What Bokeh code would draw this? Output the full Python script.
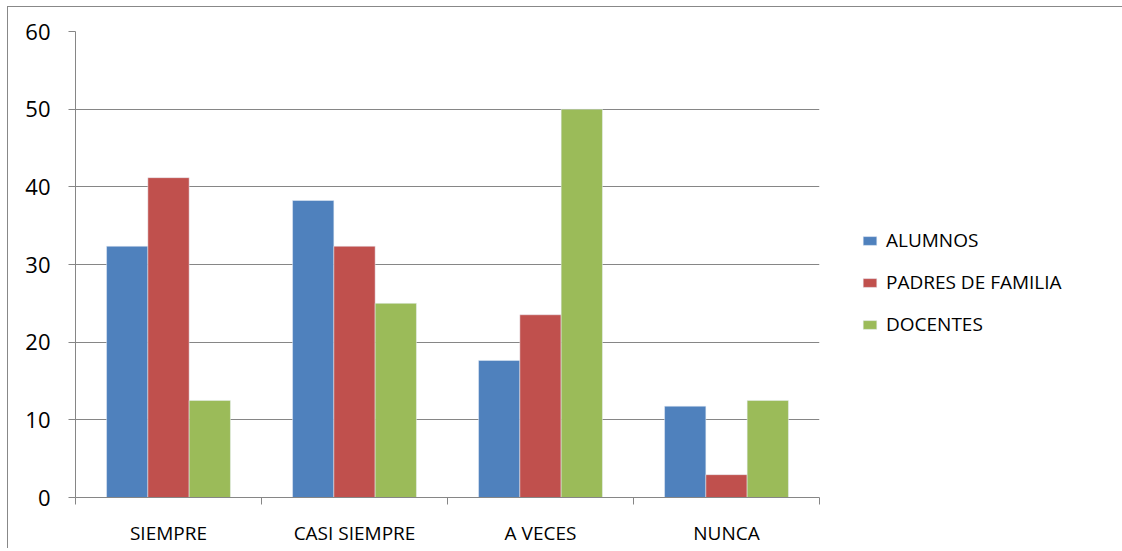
from bokeh.plotting import figure
from bokeh.models import ColumnDataSource, FixedTicker, Legend, LegendItem, Range1d
from bokeh.transform import dodge
from bokeh.embed import file_html
from bokeh.resources import INLINE

categories = ["SIEMPRE", "CASI SIEMPRE", "A VECES", "NUNCA"]
series = ["ALUMNOS", "PADRES DE FAMILIA", "DOCENTES"]
alumnos = [32.35, 38.24, 17.65, 11.76]
padres = [41.18, 32.35, 23.53, 2.94]
docentes = [12.5, 25.0, 50.0, 12.5]
y_ticks = [0, 10, 20, 30, 40, 50, 60]

colors = ["#4F81BD", "#C0504D", "#9BBB59"]
FONT = "Open Sans"

centers = [i + 0.5 for i in range(len(categories))]
src = ColumnDataSource(dict(x=centers, alumnos=alumnos, padres=padres, docentes=docentes))

p = figure(frame_width=744, frame_height=466, output_backend="svg", toolbar_location=None,
           x_range=Range1d(0, len(categories)), y_range=Range1d(0, 60),
           min_border_left=67, min_border_top=24, min_border_right=300, min_border_bottom=46)

bw = 0.222
renderers = []
for col, off, c in zip(["alumnos", "padres", "docentes"], [-bw, 0, bw], colors):
    r = p.vbar(x=dodge("x", off, range=p.x_range), top=col, width=bw, bottom=0, source=src,
               fill_color=c, line_color="#e8eef6", line_width=0.5)
    renderers.append(r)

p.outline_line_color = None
p.xgrid.grid_line_color = None
p.ygrid.grid_line_color = "#868686"
p.ygrid.grid_line_width = 1
p.yaxis.ticker = FixedTicker(ticks=y_ticks)
p.yaxis.minor_tick_line_color = None
p.yaxis.major_tick_out = 7
p.yaxis.major_tick_in = 0
p.yaxis.axis_line_color = "#868686"
p.yaxis.major_tick_line_color = "#868686"
p.yaxis.major_label_text_font = FONT
p.yaxis.major_label_text_font_size = "22px"
p.yaxis.major_label_text_color = "#000000"
p.yaxis.major_label_standoff = 18

p.xaxis.ticker = FixedTicker(ticks=centers, minor_ticks=list(range(len(categories) + 1)))
p.xaxis.major_label_overrides = {c: lab for c, lab in zip(centers, categories)}
p.xaxis.major_tick_line_color = None
p.xaxis.minor_tick_line_color = "#868686"
p.xaxis.minor_tick_out = 7
p.xaxis.minor_tick_in = 0
p.xaxis.axis_line_color = "#868686"
p.xaxis.major_label_text_font = FONT
p.xaxis.major_label_text_font_size = "19px"
p.xaxis.major_label_text_color = "#000000"
p.xaxis.major_label_standoff = 15

items = [LegendItem(label=s, renderers=[r]) for s, r in zip(series, renderers)]
legend = Legend(items=items, location=(42, 160), glyph_width=17, glyph_height=11,
                label_standoff=8, label_height=26, spacing=16, padding=0, margin=0,
                border_line_color=None, background_fill_alpha=0,
                label_text_font=FONT, label_text_font_size="19px", label_text_color="#000000")
p.add_layout(legend, "right")

p.styles = {"border": "1px solid #888888", "border-bottom": "none",
            "margin-left": "7px", "margin-top": "6px"}

open("out.html", "w").write(file_html(p, INLINE))
